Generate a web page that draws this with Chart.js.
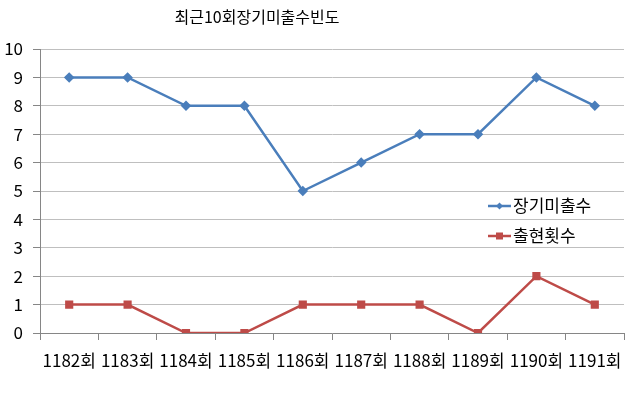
<!DOCTYPE html>
<html>
<head>
<meta charset="utf-8">
<script src="https://cdn.jsdelivr.net/npm/chart.js@4/dist/chart.umd.min.js"></script>
<style>
  html, body { margin: 0; padding: 0; background: #fff; }
  #wrap { width: 640px; height: 398px; position: relative; }
</style>
</head>
<body>
<div id="wrap"><canvas id="chart" width="640" height="398"></canvas></div>
<script>
const FONT = "'Noto Sans CJK KR', 'Noto Sans', sans-serif";

const titleText = '최근10회장기미출수빈도';
const rounds = ['1182회', '1183회', '1184회', '1185회', '1186회', '1187회', '1188회', '1189회', '1190회', '1191회'];
const missCounts = [9, 9, 8, 8, 5, 6, 7, 7, 9, 8];
const appearCounts = [1, 1, 0, 0, 1, 1, 1, 0, 2, 1];
const seriesNames = ['장기미출수', '출현횟수'];

// title + legend drawn by hand so they sit where the original has them
const extras = {
  id: 'extras',
  afterDraw(chart) {
    const ctx = chart.ctx;
    ctx.save();
    ctx.fillStyle = '#000';
    ctx.font = '16px ' + FONT;
    ctx.textAlign = 'center';
    ctx.textBaseline = 'middle';
    ctx.fillText(titleText, 257, 17);

    const items = chart.data.datasets;
    items.forEach((ds, i) => {
      const y = 206 + i * 30;
      ctx.strokeStyle = ds.borderColor;
      ctx.lineWidth = 2.5;
      ctx.beginPath();
      ctx.moveTo(488, y);
      ctx.lineTo(511, y);
      ctx.stroke();
      ctx.fillStyle = ds.borderColor;
      if (ds.pointStyle === 'rect') {
        ctx.fillRect(496, y - 3.5, 7, 7);
      } else {
        ctx.beginPath();
        ctx.moveTo(499.5, y - 3.5);
        ctx.lineTo(503, y);
        ctx.lineTo(499.5, y + 3.5);
        ctx.lineTo(496, y);
        ctx.closePath();
        ctx.fill();
      }
      ctx.fillStyle = '#000';
      ctx.textAlign = 'left';
      ctx.font = '17px ' + FONT;
      ctx.fillText(ds.label, 513, y);
    });
    ctx.restore();
  }
};

new Chart(document.getElementById('chart'), {
  type: 'line',
  data: {
    labels: rounds,
    datasets: [
      {
        label: seriesNames[0],
        data: missCounts,
        borderColor: '#4a7ebb',
        backgroundColor: '#4a7ebb',
        borderWidth: 2.5,
        pointStyle: 'rectRot',
        pointRadius: 3.5,
        pointHoverRadius: 3.5,
        tension: 0
      },
      {
        label: seriesNames[1],
        data: appearCounts,
        borderColor: '#be4b48',
        backgroundColor: '#be4b48',
        borderWidth: 2.5,
        pointStyle: 'rect',
        pointRadius: 4,
        pointHoverRadius: 4,
        tension: 0
      }
    ]
  },
  options: {
    responsive: false,
    animation: false,
    devicePixelRatio: 1,
    layout: { padding: { left: 0, right: 16, top: 49, bottom: 0 } },
    plugins: {
      legend: { display: false },
      title: { display: false },
      tooltip: { enabled: false }
    },
    scales: {
      x: {
        offset: true,
        grid: {
          display: true,
          drawOnChartArea: false,
          drawTicks: true,
          tickLength: 7,
          color: '#868686',
          offset: true
        },
        border: { color: '#868686', width: 1 },
        ticks: {
          color: '#000',
          font: { family: FONT, size: 17 },
          maxRotation: 0,
          autoSkip: false,
          padding: 10
        },
        afterFit(s) { s.height = 65; }
      },
      y: {
        min: 0,
        max: 10,
        grid: {
          color: '#bfbfbf',
          tickLength: 7,
          tickColor: '#868686'
        },
        border: { color: '#868686', width: 1 },
        ticks: {
          stepSize: 1,
          color: '#000',
          font: { family: FONT, size: 17 },
          padding: 10
        },
        afterFit(s) { s.width = 40; }
      }
    }
  },
  plugins: [extras]
});
</script>
</body>
</html>
